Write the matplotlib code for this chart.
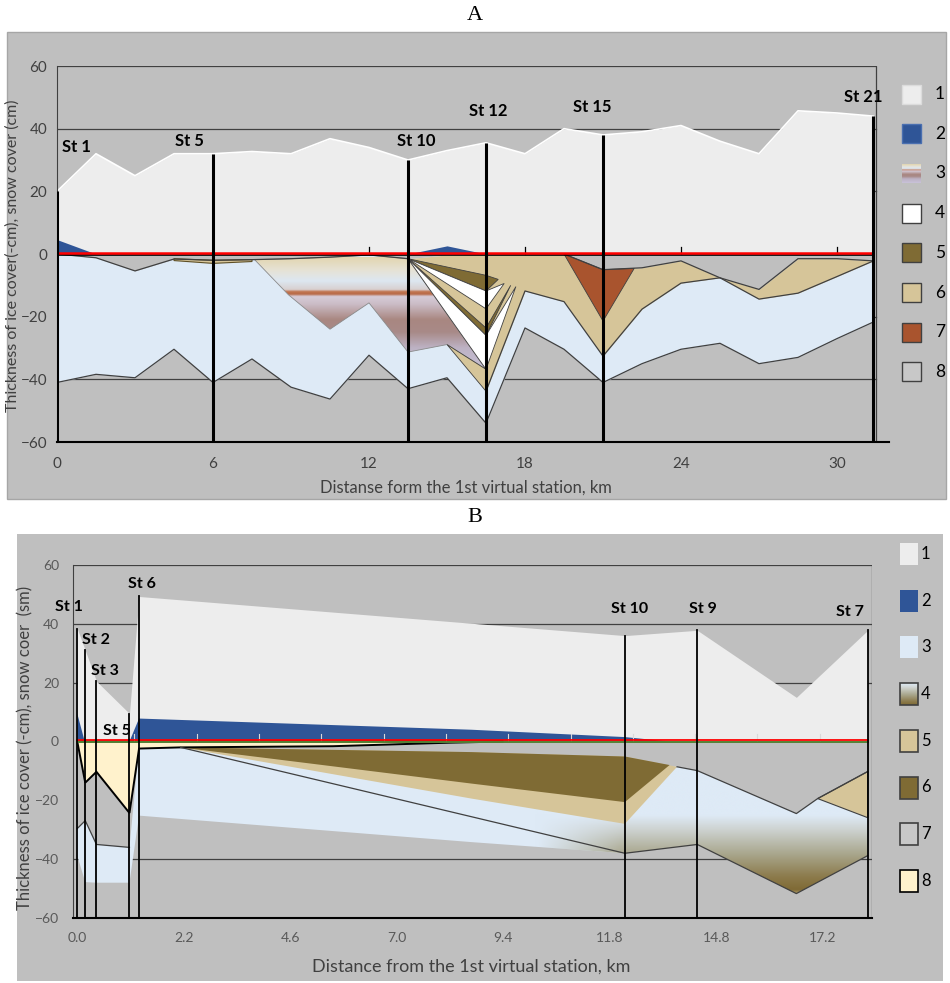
import numpy as np
import matplotlib
matplotlib.use('Agg')
import matplotlib.pyplot as plt
from matplotlib.patches import Polygon, Rectangle
from matplotlib.colors import LinearSegmentedColormap

plt.rcParams['font.family'] = ['Lato', 'DejaVu Sans']

# ---------------- panel A data (km, cm) ----------------
a_km = [0, 1.5, 3, 4.5, 6, 7.5, 9, 10.5, 12, 13.5, 15, 16.5, 18, 19.5, 21, 22.5, 24, 25.5, 27, 28.5, 30, 31.4]
a_snow = [20, 32, 25, 32, 32, 32.7, 32, 36.8, 34, 30, 33, 35.5, 32, 40, 38, 39, 41, 36, 32, 45.7, 45, 44]
a_snowice = [4.6, 0, 0, 0, 0, 0, 0, 0, 0, 0, 2.6, 0, 0, 0, 0, 0, 0, 0, 0, 0, 0, 0]
a_ice_top = [0, -1.2, -5.4, -1.6, -2.0, -1.8, -1.5, -1.0, -0.3, -1.5, -0.3, 0, 0, 0, -5, -4.4, -2.2, -7.6, -11.3, -1.5, -1.5, -2.2]
a_ice_bot = [-41, -38.4, -39.5, -30.4, -41, -33.5, -42.5, -46.3, -32.3, -43, -39.5, -54, -23.6, -30.4, -41, -35, -30.4, -28.5, -35, -33, -27, -21.7]
a_tan_bot = [-1.5, -22.5, -43.8, -11.8, -15.2, -32.6, -17.6, -9.3, -7.6, -14.4, -12.5, -7.2, -2.2]  # from 13.5 km on

a_thin_x = [4.5, 6, 7.5, 7.5, 6, 4.5]
a_thin_y = [-1.5, -2.0, -1.8, -2.4, -3.0, -2.1]
a3_x = [7.6, 9, 10.5, 12, 13.5, 16.5, 15, 13.5, 12, 10.5, 8.9]
a3_y = [-1.8, -1.5, -1.0, -0.3, -1.5, -36.8, -28.9, -31.3, -15.6, -24.0, -13.0]
a5_x = [13.5, 16.5, 16.97, 16.5]
a5_y = [-1.5, -6.8, -8.1, -11.8]
a4a_x = [13.5, 16.5, 17.2, 16.5]
a4a_y = [-1.5, -11.8, -9.4, -17.5]
a5b_x = [13.5, 16.5, 17.45, 16.5]
a5b_y = [-1.5, -23.6, -10.0, -26.0]
a4b_x = [13.5, 16.5, 17.65, 16.5]
a4b_y = [-1.5, -26.0, -10.4, -36.8]
a6t_x = [15, 16.5, 16.5]
a6t_y = [-28.9, -36.8, -43.8]
a7_x = [19.5, 21, 22.2, 21]
a7_y = [0, -5, -4.6, -21.4]

a_st_names = ['St 1', 'St 5', 'St 10', 'St 12', 'St 15', 'St 21']
a_st_x = [0, 6, 13.5, 16.5, 21, 31.4]

# ---------------- panel B data (axis units, cm) ----------------
b_ticks = ['0.0', '2.2', '4.6', '7.0', '9.4', '11.8', '14.8', '17.2']
b_x = [0, 0.075, 0.18, 0.49, 0.58, 5.14, 5.82, 6.75, 7.42]
b_snow = [38.4, 31, 20.5, 9.5, 49.3, 36, 37.8, 15, 37.8]
b2a_x = [0, 0, 0.07]
b2a_y = [0, 9.5, 0]
b2b_x = [0.49, 0.58, 3.7, 5.14, 5.56]
b2b_y = [0, 7.8, 4.0, 1.5, 0]
b8_x = [0, 0.075, 0.18, 0.49, 0.58, 0.97, 2.4, 3.5, 4.0]
b8_y = [0, -14, -10.3, -24.3, -2.4, -2.0, -1.6, -0.4, 0]
b3_x = [0, 0.075, 0.18, 0.49, 0.58, 0.97, 5.63, 5.82, 6.75, 6.95, 7.42,
        7.42, 6.75, 5.82, 5.14, 3.7, 0.58, 0.49, 0.18, 0.075, 0]
b3_y = [-29.6, -26.9, -35, -36, -2, -2, -8.6, -9.9, -24.5, -19.4, -10.2,
        -38.8, -51.7, -35, -38, -34.2, -25.2, -48, -48, -47.8, -38.8]
b5_x = [0.97, 3.7, 5.14, 5.63, 5.14, 3.7]
b5_y = [-2.0, -3.6, -5.1, -8.6, -28.0, -19.4]
b6_x = [0.97, 3.7, 5.14, 5.56, 5.14, 3.7]
b6_y = [-2.0, -3.6, -5.1, -8.0, -20.6, -14.3]
b5r_x = [6.95, 7.42, 7.42]
b5r_y = [-19.4, -10.2, -25.9]
b_top_l_x = [0, 0.075, 0.18, 0.49]
b_top_l_y = [-29.6, -26.9, -35, -36]
b_top_r_x = [5.63, 5.82, 6.75, 6.95, 7.42]
b_top_r_y = [-8.6, -9.9, -24.5, -19.4, -10.2]
b_bot_x = [0.97, 5.14, 5.82, 6.75, 7.42]
b_bot_y = [-2.0, -38, -35, -51.7, -38.8]
b_st_names = ['St 1', 'St 2', 'St 3', 'St 5', 'St 6', 'St 10', 'St 9', 'St 7']
b_st_idx = [0, 1, 2, 3, 4, 5, 6, 8]

# ---------------- colours ----------------
BG = '#bfbfbf'
SNOW = '#ededed'
BLUE = '#2f5597'
ICE = '#deeaf6'
TAN = '#d6c599'
BROWN = '#7f6b34'
RUST = '#a9542e'
CREAM = '#fff2cc'
LINE = '#404040'
grad3 = [(-1, '#e2d5b0'), (-5, '#e6e2d4'), (-8.5, '#dde7f1'), (-11.3, '#d8d0d0'),
         (-12.0, '#c27550'), (-12.8, '#b86a48'), (-13.5, '#d6ccd8'), (-16, '#cbbcc6'),
         (-21, '#a98781'), (-25, '#a88a88'), (-30, '#bdb2c4'), (-38, '#c8c2d8')]
grad4 = [(-8, ICE), (-25, ICE), (-30, '#cdd2d0'), (-38, '#aaa88f'),
         (-46, '#8c7b4c'), (-50.5, '#7f6a35'), (-52.5, '#c8b88a')]

W, H = 950, 983
fig = plt.figure(figsize=(9.5, 9.83), dpi=100)
pg = fig.add_axes([0, 0, 1, 1], zorder=0)


def cmap_of(stops):
    stops = sorted(stops)
    lo, hi = stops[0][0], stops[-1][0]
    return LinearSegmentedColormap.from_list('g', [((v - lo) / (hi - lo), c) for v, c in stops]), lo, hi


def grad_fill(ax, xs, ys, stops, x0, x1, fade=None, z=3.5):
    clip = Polygon(np.column_stack([xs, ys]), closed=True, fc='none', ec='none')
    ax.add_patch(clip)
    cm, lo, hi = cmap_of(stops)
    nx = 80
    rgba = cm(np.linspace(0, 1, 400))[:, None, :].repeat(nx, axis=1)
    if fade:
        xx = np.linspace(x0, x1, nx)
        rgba[..., 3] = np.clip((xx - fade[0]) / (fade[1] - fade[0]), 0, 1)[None, :]
    im = ax.imshow(rgba, extent=(x0, x1, lo, hi), origin='lower', aspect='auto',
                   zorder=z, interpolation='bilinear')
    im.set_clip_path(clip)


def poly(ax, xs, ys, fc, ec=LINE, lw=0.6, z=4):
    ax.add_patch(Polygon(np.column_stack([xs, ys]), closed=True, fc=fc, ec=ec, lw=lw, zorder=z))


def px_axes(l, t, r, b):
    ax = fig.add_axes([l / W, 1 - b / H, (r - l) / W, (b - t) / H], zorder=1)
    ax.set_facecolor('none')
    for s in ['top', 'right']:
        ax.spines[s].set_visible(False)
    ax.spines['left'].set_color(LINE)
    ax.spines['left'].set_linewidth(0.8)
    ax.spines['bottom'].set_color('black')
    ax.spines['bottom'].set_linewidth(1.5)
    ax.tick_params(length=0)
    return ax


# ---------------- page: backgrounds, titles, legends ----------------
pg.add_patch(Rectangle((7, 32), 939, 467, fc=BG, ec='#a6a6a6', lw=1))
pg.add_patch(Rectangle((17, 534), 926, 447, fc=BG, ec='none'))
pg.text(475, 15, 'A', family='Liberation Serif', fontsize=16, ha='center', va='center')
pg.text(475, 518, 'B', family='Liberation Serif', fontsize=16, ha='center', va='center')
pg.text(13, 256, 'Thickness of ice cover(-cm), snow cover (cm)', rotation=90, fontsize=11.5,
        color=LINE, ha='center', va='center')
pg.text(466, 488, 'Distanse form the 1st virtual station, km', fontsize=12, color=LINE,
        ha='center', va='center')
pg.text(25, 748, 'Thickness of ice cover (-cm), snow coer  (sm)', rotation=90, fontsize=12,
        color=LINE, ha='center', va='center')
pg.text(471, 967, 'Distance from the 1st virtual station, km', fontsize=13, color=LINE,
        ha='center', va='center')

leg_a = [SNOW, BLUE, 'g3', 'white', BROWN, TAN, RUST, '#c8c8c8']
leg_a_ec = ['#dcdcdc', '#4a6fb0', None, LINE, LINE, LINE, LINE, LINE]
for i, (c, e) in enumerate(zip(leg_a, leg_a_ec)):
    cy = 94 + i * 39.7
    if c == 'g3':
        cm, lo, hi = cmap_of(grad3)
        rows = cm(np.linspace(1, 0, 60))[:, None, :]
        pg.imshow(rows, extent=(902, 921, cy + 9.5, cy - 9.5), origin='upper', aspect='auto', zorder=2)
    else:
        pg.add_patch(Rectangle((902, cy - 9.5), 19, 19, fc=c, ec=e, lw=1, zorder=2))
    pg.text(935, cy, str(i + 1), fontsize=12.5, va='center', ha='left')

leg_b = [SNOW, BLUE, ICE, 'g4', TAN, BROWN, '#c8c8c8', CREAM]
for i, c in enumerate(leg_b):
    cy = 554 + i * 46.7
    if c == 'g4':
        cm, lo, hi = cmap_of([(-25, ICE), (-30, '#d0d4d0'), (-38, '#aaa88f'), (-46, '#8c7b4c'), (-50, '#7f6a35')])
        rows = cm(np.linspace(1, 0, 60))[:, None, :]
        pg.imshow(rows, extent=(900, 918, cy + 11, cy - 11), origin='upper', aspect='auto', zorder=2)
        pg.add_patch(Rectangle((900, cy - 11), 18, 22, fc='none', ec=LINE, lw=1.2, zorder=3))
    else:
        ec = 'none' if i < 3 else ('black' if i == 7 else LINE)
        pg.add_patch(Rectangle((900, cy - 11), 18, 22, fc=c, ec=ec, lw=1.2, zorder=2))
    pg.text(921, cy, str(i + 1), fontsize=12, va='center', ha='left')

pg.set_xlim(0, W)
pg.set_ylim(H, 0)
pg.axis('off')

# ---------------- panel A ----------------
ax = px_axes(57, 66, 889, 442)
for gy in [-40, -20, 20, 40]:
    ax.plot([0, 31.5], [gy, gy], color=LINE, lw=0.9, zorder=0.5)
ax.plot([0, 31.5, 31.5], [60, 60, -60], color=LINE, lw=0.9, zorder=0.5)

ax.fill_between(a_km, 0, a_snow, color=SNOW, lw=0, zorder=2)
ax.plot(a_km, a_snow, color='white', lw=1.2, zorder=2.1)
ax.fill_between(a_km, 0, a_snowice, color=BLUE, lw=0, zorder=3)
ax.fill_between(a_km, a_ice_top, a_ice_bot, color=ICE, lw=0, zorder=2)
ax.fill_between(a_km[9:], a_ice_top[9:], a_tan_bot, color=TAN, lw=0, zorder=3)
poly(ax, a_thin_x, a_thin_y, TAN, ec='#5e4f25', lw=0.8)
grad_fill(ax, a3_x, a3_y, grad3, 7.5, 16.6)
ax.add_patch(Polygon(np.column_stack([a3_x, a3_y]), closed=True, fc='none', ec='#8a8a8a', lw=0.6, zorder=3.6))
poly(ax, a6t_x, a6t_y, TAN)
poly(ax, a5_x, a5_y, BROWN)
poly(ax, a4a_x, a4a_y, 'white')
poly(ax, a5b_x, a5b_y, BROWN)
poly(ax, a4b_x, a4b_y, 'white')
poly(ax, a7_x, a7_y, RUST)
ax.plot(a_km, a_ice_bot, color=LINE, lw=0.9, zorder=5)
ax.plot(a_km[:10], a_ice_top[:10], color=LINE, lw=0.9, zorder=5)
ax.plot(a_km[13:], a_ice_top[13:], color=LINE, lw=0.9, zorder=5)
ax.plot(a_km[11:], a_tan_bot[2:], color=LINE, lw=0.9, zorder=5)

ax.plot([0, 31.4], [-0.3, -0.3], color='black', lw=1.2, zorder=6)
ax.plot([0, 31.4], [0.35, 0.35], color='#ff0000', lw=1.8, zorder=6.1)
for t in [6, 12, 18, 24, 30]:
    ax.plot([t, t], [0, 2.2], color='black', lw=0.9, zorder=6)

a_st_top = np.interp(a_st_x, a_km, a_snow)
for sx, top in zip(a_st_x, a_st_top):
    ax.plot([sx, sx], [-60, top], color='black', lw=2.2, zorder=7, solid_capstyle='butt')
a_lab = [(0.2, 34, 'left'), (5.1, 36, 'center'), (13.8, 36, 'center'),
         (16.6, 45.5, 'center'), (20.6, 47, 'center'), (31.0, 50, 'center')]
for name, (lx, ly, ha) in zip(a_st_names, a_lab):
    ax.text(lx, ly, name, fontsize=12, fontweight='bold', ha=ha, va='center', zorder=8)

ax.set_xlim(0, 32)
ax.set_ylim(-60, 60)
ax.set_xticks([0, 6, 12, 18, 24, 30])
ax.set_yticks([-60, -40, -20, 0, 20, 40, 60])
ax.tick_params(axis='both', labelsize=11, labelcolor=LINE)
ax.tick_params(axis='x', pad=11)
ax.tick_params(axis='y', pad=7)

# ---------------- panel B ----------------
bx = px_axes(73, 565, 872, 918)
for gy in [-40, 20, 40]:
    bx.plot([-0.04, 7.46], [gy, gy], color=LINE, lw=0.9, zorder=0.5)
bx.plot([-0.04, 7.46, 7.46], [60, 60, -60], color=LINE, lw=0.9, zorder=0.5)

bx.fill_between(b_x, 0, b_snow, color=SNOW, lw=0, zorder=2)
poly(bx, b2a_x, b2a_y, BLUE, ec='none', z=3)
poly(bx, b2b_x, b2b_y, BLUE, ec='none', z=3)
poly(bx, b3_x, b3_y, ICE, ec='none', z=2)
grad_fill(bx, b3_x, b3_y, grad4, 4.0, 7.46, fade=(4.3, 5.1), z=2.5)
poly(bx, b5_x, b5_y, TAN, ec='none', z=3)
poly(bx, b6_x, b6_y, BROWN, ec='none', z=3.2)
poly(bx, b5r_x, b5r_y, TAN, ec=LINE, lw=0.8, z=3)
poly(bx, b8_x, b8_y, CREAM, ec='black', lw=1.4, z=4)
bx.plot(b_top_l_x, b_top_l_y, color=LINE, lw=0.9, zorder=5)
bx.plot(b_top_r_x, b_top_r_y, color=LINE, lw=0.9, zorder=5)
bx.plot(b_bot_x, b_bot_y, color=LINE, lw=0.9, zorder=5)

bx.plot([0, 7.42], [-0.25, -0.25], color='#548235', lw=1.4, zorder=6)
bx.plot([0, 7.42], [0.6, 0.6], color='#ff0000', lw=1.3, zorder=6.1)
for k in range(12):
    t = 0.535 + k * 0.585
    bx.plot([t, t], [0.6, 2.4], color='#d9d9d9', lw=0.8, zorder=6)

for i, name in zip(b_st_idx, b_st_names):
    bx.plot([b_x[i], b_x[i]], [-60, b_snow[i]], color='black', lw=1.3, zorder=7)
b_lab = [(-0.08, 45.6), (0.18, 34.4), (0.26, 23.8), (0.37, 3.4),
         (0.61, 53.4), (5.18, 45), (5.87, 45), (7.25, 44)]
for name, (lx, ly) in zip(b_st_names, b_lab):
    bx.text(lx, ly, name, fontsize=11.5, fontweight='bold', ha='center', va='center', zorder=8)

bx.set_xlim(-0.04, 7.46)
bx.set_ylim(-60, 60)
bx.set_xticks(range(len(b_ticks)))
bx.set_xticklabels(b_ticks)
bx.set_yticks([-60, -40, -20, 0, 20, 40, 60])
bx.tick_params(axis='both', labelsize=10, labelcolor='#595959')
bx.tick_params(axis='x', pad=10)
bx.tick_params(axis='y', pad=10)

fig.savefig('out.png', dpi=100)
